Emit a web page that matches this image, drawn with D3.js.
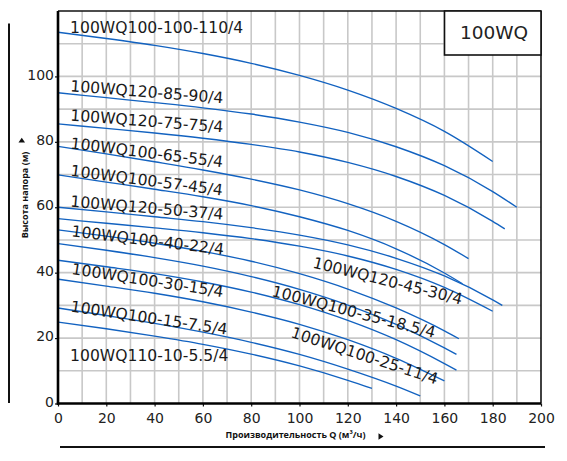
<!DOCTYPE html>
<html>
<head>
<meta charset="utf-8">
<script src="https://cdn.jsdelivr.net/npm/d3@7/dist/d3.min.js"></script>
<style>
  html, body { margin: 0; padding: 0; background: #fff; }
  svg { display: block; }
</style>
</head>
<body>
<svg id="chart" width="567" height="461"></svg>
<script>
// ---------------- DATA ----------------
const models = [
  "100WQ100-100-110/4",
  "100WQ120-85-90/4",
  "100WQ120-75-75/4",
  "100WQ100-65-55/4",
  "100WQ100-57-45/4",
  "100WQ120-50-37/4",
  "100WQ100-40-22/4",
  "100WQ120-45-30/4",
  "100WQ100-35-18.5/4",
  "100WQ100-30-15/4",
  "100WQ100-25-11/4",
  "100WQ100-15-7.5/4",
  "100WQ110-10-5.5/4"
];

// Q (m3/h), H (m) points, top curve to bottom curve
const curveQH = [
  [[0,113.5],[20,111.6],[40,109.5],[60,107.0],[80,104.0],[100,100.3],[120,95.8],[140,90.2],[160,83.2],[180,74.0]],
  [[0,95],[20,93.5],[40,92.0],[60,90.4],[80,88.5],[100,86.05],[120,82.9],[140,78.5],[160,72.7],[180,64.8],[190,60]],
  [[0,85.5],[20,84.1],[40,82.7],[60,81.1],[80,79.2],[100,76.9],[120,73.7],[140,69.4],[160,63.6],[180,55.7],[185,53.4]],
  [[0,78.6],[20,76.3],[40,73.9],[60,71.4],[80,68.6],[100,65.3],[120,61.1],[140,55.7],[160,48.6],[170,44.3]],
  [[0,69.9],[20,67.7],[40,65.5],[60,63.2],[80,60.5],[100,57.1],[120,52.9],[140,47.3],[160,39.9],[167.5,36.6]],
  [[0,60],[20,58.6],[40,57.1],[60,55.6],[80,53.75],[100,51.5],[120,48.5],[140,44.4],[160,39.0],[180,31.7],[184,30]],
  [[0,56.5],[20,55.1],[40,53.7],[60,52.2],[80,50.4],[100,48.1],[120,45.1],[140,41.0],[160,35.5],[180,28.2]],
  [[0,53.1],[20,51.15],[40,49.0],[60,46.5],[80,43.5],[100,39.7],[120,35.0],[140,29.2],[160,22.2],[166,19.8]],
  [[0,48.9],[20,46.85],[40,44.6],[60,42.0],[80,38.8],[100,34.9],[120,30.1],[140,24.2],[160,17.0],[165,15]],
  [[0,43.8],[20,41.8],[40,39.7],[60,37.15],[80,34.05],[100,30.2],[120,25.4],[140,19.5],[160,12.2],[165,10.2]],
  [[0,38],[20,35.9],[40,33.7],[60,31.1],[80,27.95],[100,24.2],[120,19.5],[140,13.8],[160,6.9]],
  [[0,29.2],[20,26.9],[40,24.5],[60,21.8],[80,18.7],[100,15.0],[120,10.5],[140,5.3],[150,2.3]],
  [[0,24.9],[20,22.85],[40,20.6],[60,18.1],[80,15.1],[100,11.5],[120,7.1],[130,4.6]]
];

const xTicks = [0,20,40,60,80,100,120,140,160,180,200];
const yTicks = [0,20,40,60,80,100];
const xTitle = "Производительность Q (м³/ч)";
const yTitle = "Высота напора (м)";
const legendTitle = "100WQ";

// label anchors (Q, H in data units) and rotation (deg), same order as models
const labelAt = [
  [5,113.3,0],[5,95.5,4.5],[5,86.5,4.4],[5,78.0,7.1],[5,69.6,7.4],[5,60.2,4.9],
  [5.4,51.1,6.9],[105.2,41.6,14],[88.2,32.9,14.5],[5.4,39.6,8.7],[96.1,20.3,18],
  [5,28.1,8.4],[5,13.0,0]
];

// ---------------- CHART ----------------
const svg = d3.select("#chart");
const L = 58, R = 541, T = 11, B = 403.5;
const x = d3.scaleLinear().domain([0,200]).range([L,R]);
const y = d3.scaleLinear().domain([0,120]).range([B,T]);

svg.append("rect").attr("width",567).attr("height",461).attr("fill","#fff");

// grid
const grid = svg.append("g").attr("stroke","#c8c8c8").attr("stroke-width",1.6);
grid.selectAll("line.v").data(d3.range(10,200,10)).join("line")
  .attr("x1",d=>x(d)).attr("x2",d=>x(d)).attr("y1",T).attr("y2",B);
grid.selectAll("line.h").data(d3.range(10,120,10)).join("line")
  .attr("y1",d=>y(d)).attr("y2",d=>y(d)).attr("x1",L).attr("x2",R);

// frame top/right
svg.append("line").attr("x1",L).attr("x2",R).attr("y1",T).attr("y2",T).attr("stroke","#111").attr("stroke-width",1.6);
svg.append("line").attr("x1",R).attr("x2",R).attr("y1",T).attr("y2",B).attr("stroke","#111").attr("stroke-width",1.6);

// curves
const line = d3.line().x(d=>x(d[0])).y(d=>y(d[1])).curve(d3.curveMonotoneX);
svg.append("g").selectAll("path").data(curveQH).join("path")
  .attr("d",line).attr("fill","none").attr("stroke","#1262c0").attr("stroke-width",1.35);

// labels
svg.append("g").selectAll("text").data(models).join("text")
  .attr("transform",(d,i)=>`translate(${x(labelAt[i][0])},${y(labelAt[i][1])}) rotate(${labelAt[i][2]})`)
  .attr("font-family","'DejaVu Sans', Verdana, sans-serif")
  .attr("font-size",15.6).attr("fill","#1a1a1a")
  .text(d=>d);

// axes
const yAxis = d3.axisLeft(y).tickValues(yTicks).tickSize(3).tickPadding(1).tickSizeOuter(0);
const gy = svg.append("g").attr("transform",`translate(${L},0)`).call(yAxis);
gy.select(".domain").remove();
gy.selectAll(".tick line").attr("stroke","#111").attr("stroke-width",1.2);
gy.selectAll(".tick text").attr("font-family","'DejaVu Sans', Verdana, sans-serif")
  .attr("font-size",14).attr("fill","#222").attr("dy","0.19em");

const xAxis = d3.axisBottom(x).tickValues(xTicks).tickSize(3).tickPadding(7).tickSizeOuter(0);
const gx = svg.append("g").attr("transform",`translate(0,${B})`).call(xAxis);
gx.select(".domain").remove();
gx.selectAll(".tick line").attr("stroke","#111").attr("stroke-width",1.2);
gx.selectAll(".tick text").attr("font-family","'DejaVu Sans', Verdana, sans-serif")
  .attr("font-size",14).attr("fill","#222");

// thick axis lines
svg.append("line").attr("x1",L).attr("x2",L).attr("y1",T).attr("y2",B+1.2).attr("stroke","#000").attr("stroke-width",2.6);
svg.append("line").attr("x1",L-1.2).attr("x2",R).attr("y1",B).attr("y2",B).attr("stroke","#000").attr("stroke-width",2.6);

// legend box
svg.append("rect").attr("x",444.5).attr("y",T).attr("width",R-444.5).attr("height",44)
  .attr("fill","#fff").attr("stroke","#111").attr("stroke-width",1.6);
svg.append("text").attr("x",494).attr("y",38.5).attr("text-anchor","middle")
  .attr("font-family","'DejaVu Sans', Verdana, sans-serif").attr("font-size",18.5).attr("fill","#222")
  .text(legendTitle);

// axis titles
svg.append("text").attr("x",225.5).attr("y",438)
  .attr("font-family","'Open Sans', 'DejaVu Sans', sans-serif").attr("font-weight","bold")
  .attr("font-size",9).attr("fill","#111").text(xTitle);
svg.append("path").attr("d","M378.5,433.3 L378.5,439.7 L383.5,436.5 Z").attr("fill","#111");

svg.append("text").attr("transform","translate(27.5,195) rotate(-90)").attr("text-anchor","middle")
  .attr("font-family","'Open Sans', 'DejaVu Sans', sans-serif").attr("font-weight","bold")
  .attr("font-size",9).attr("fill","#111").text(yTitle);
svg.append("path").attr("d","M18.5,142.5 L25,142.5 L21.75,137.8 Z").attr("fill","#111");

// decorative outer lines
svg.append("line").attr("x1",9).attr("x2",9).attr("y1",23.5).attr("y2",403).attr("stroke","#111").attr("stroke-width",2);
svg.append("line").attr("x1",60).attr("x2",545).attr("y1",447).attr("y2",447).attr("stroke","#111").attr("stroke-width",2);
</script>
</body>
</html>
